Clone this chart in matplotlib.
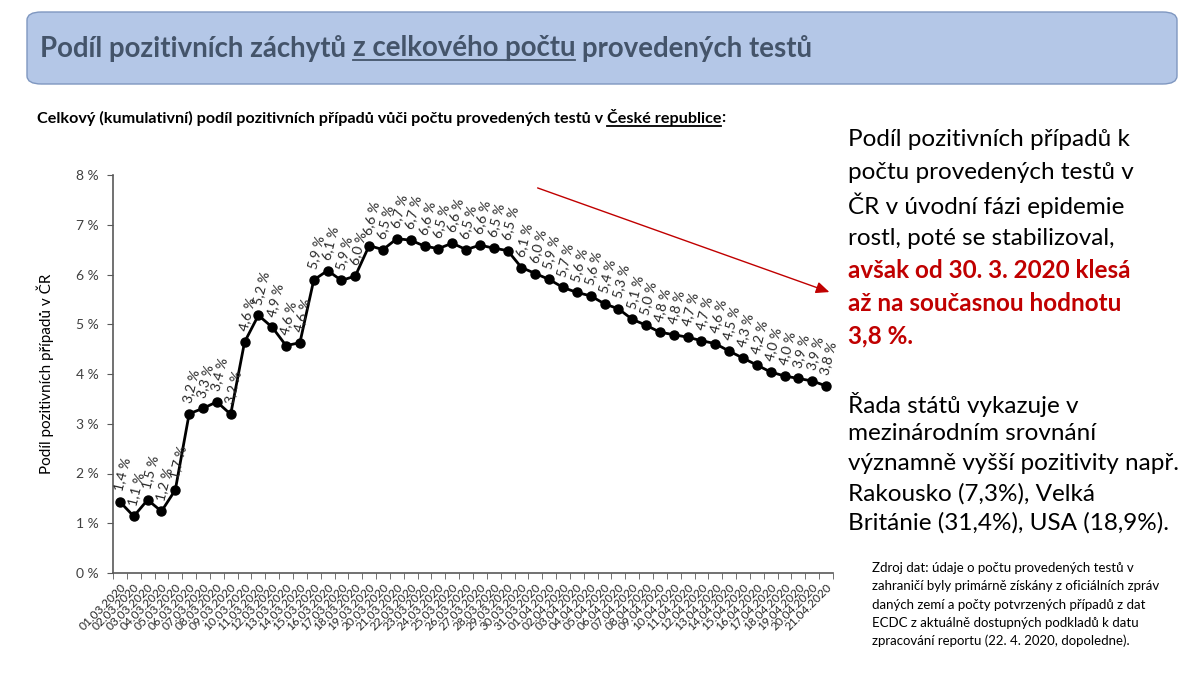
import datetime
import matplotlib
matplotlib.use("Agg")
import matplotlib.pyplot as plt
from matplotlib.patches import FancyBboxPatch

plt.rcParams['font.family'] = ['Lato', 'DejaVu Sans']

# ---------- data ----------
start = datetime.date(2020, 3, 1)
dates = [(start + datetime.timedelta(days=i)).strftime("%d.%m.%Y") for i in range(52)]

# kumulativni podil pozitivnich (%)
share = [1.43, 1.14, 1.47, 1.24, 1.67, 3.20, 3.31, 3.44, 3.19, 4.64,
         5.18, 4.94, 4.57, 4.63, 5.89, 6.08, 5.88, 5.97, 6.58, 6.50,
         6.72, 6.69, 6.57, 6.52, 6.63, 6.50, 6.59, 6.53, 6.48, 6.14,
         6.02, 5.90, 5.74, 5.64, 5.57, 5.41, 5.31, 5.10, 4.98, 4.84,
         4.79, 4.74, 4.67, 4.61, 4.46, 4.32, 4.18, 4.04, 3.96, 3.91,
         3.86, 3.76]

yticks = [0, 1, 2, 3, 4, 5, 6, 7, 8]

W, H = 1200, 674


def fx(px):
    return px / W


def fy(py):
    return 1 - py / H


fig = plt.figure(figsize=(12, 6.74), dpi=100)
fig.patch.set_facecolor("white")
renderer = fig.canvas.get_renderer()


def text_w(t):
    return t.get_window_extent(renderer=renderer).width


def underlined_line(parts, x0, y0, size, color, weight="bold"):
    # parts: list of (text, underline?)
    probe = fig.text(0, 0, "a a", fontsize=size, fontweight=weight)
    probe2 = fig.text(0, 0, "aa", fontsize=size, fontweight=weight)
    space = text_w(probe) - text_w(probe2)
    probe.remove()
    probe2.remove()
    x = x0
    for i, (s, ul) in enumerate(parts):
        t = fig.text(fx(x), fy(y0), s, fontsize=size, fontweight=weight,
                     color=color, va="center", ha="left")
        w = text_w(t)
        if ul:
            ext = t.get_window_extent(renderer=renderer)
            yl = ext.y0 + 1
            fig.add_artist(plt.Line2D([x / W, (x + w) / W], [yl / H, yl / H],
                                      color=color, lw=1.3, transform=fig.transFigure))
        x += w
        if i + 1 < len(parts) and not parts[i + 1][0].startswith(":"):
            x += space


# ---------- title box ----------
box = FancyBboxPatch((fx(27), fy(84)), fx(1177) - fx(27), fy(12) - fy(84),
                     boxstyle="round,pad=0,rounding_size=0.012",
                     transform=fig.transFigure, facecolor="#b4c7e7",
                     edgecolor="#7f97c0", lw=1.0)
fig.patches.append(box)

underlined_line([("Podíl pozitivních záchytů", False), ("z celkového počtu", True),
                 ("provedených testů", False)], 40, 48, 19.9, "#44546a")

underlined_line([("Celkový (kumulativní) podíl pozitivních případů vůči počtu provedených testů v", False),
                 ("České republice", True), (":", False)], 37, 118, 11.6, "black")

# ---------- chart ----------
ax = fig.add_axes([fx(113), fy(573), fx(833) - fx(113), fy(175) - fy(573)])
x = list(range(len(share)))
ax.plot(x, share, color="black", lw=2, marker="o", markersize=6.5, zorder=3)

for xi, v in zip(x, share):
    lab = f"{v:.1f} %".replace(".", ",")
    ax.annotate(lab, (xi, v), xytext=(-1, 8), textcoords="offset points",
                rotation=76, rotation_mode="anchor", ha="left", va="center",
                fontsize=10, color="#262626")

ax.set_xlim(-0.5, len(share) - 0.5)
ax.set_ylim(0, 8)
ax.set_yticks(yticks)
ax.set_yticklabels([f"{t} %" for t in yticks], fontsize=10, color="#404040")
ax.set_xticks(x)
ax.set_xticklabels(dates, rotation=45, ha="right", rotation_mode="anchor",
                   fontsize=8.6, color="#262626")
ax.set_xticks([i - 0.5 for i in range(len(share) + 1)], minor=True)
ax.tick_params(axis="x", which="major", length=0, pad=6)
ax.tick_params(axis="x", which="minor", length=4, direction="out", color="#595959")
ax.tick_params(axis="y", length=4, direction="out", color="#595959", pad=6)
for s in ["top", "right"]:
    ax.spines[s].set_visible(False)
for s in ["left", "bottom"]:
    ax.spines[s].set_color("#595959")
    ax.spines[s].set_linewidth(1.2)
ax.set_ylabel("Podíl pozitivních případů v ČR", fontsize=11, color="black", labelpad=16)

# red trend arrow
fig.add_artist(matplotlib.patches.FancyArrowPatch(
    (fx(535), fy(187)), (fx(832), fy(293)), transform=fig.transFigure,
    arrowstyle="-|>,head_length=8,head_width=3.5", color="#c00000", lw=1.0))

# ---------- right-hand text ----------
para1 = ["Podíl pozitivních případů k", "počtu provedených testů v",
         "ČR v úvodní fázi epidemie", "rostl, poté se stabilizoval,"]
para1_red = ["avšak od 30. 3. 2020 klesá", "až na současnou hodnotu", "3,8 %."]
para2 = ["Řada států vykazuje v", "mezinárodním srovnání",
         "významně vyšší pozitivity např.", "Rakousko (7,3%), Velká",
         "Británie (31,4%), USA (18,9%)."]
source = ["Zdroj dat: údaje o počtu provedených testů v",
          "zahraničí byly primárně získány z oficiálních zpráv",
          "daných zemí a počty potvrzených případů z dat",
          "ECDC z aktuálně dostupných podkladů k datu",
          "zpracování reportu (22. 4. 2020, dopoledne)."]

y = 140
for line in para1:
    fig.text(fx(848), fy(y), line, fontsize=17.5, va="center", color="black")
    y += 32.7
for line in para1_red:
    fig.text(fx(848), fy(y), line, fontsize=17.5, va="center", color="#c00000",
             fontweight="bold")
    y += 32.7

y = 404
for line in para2:
    fig.text(fx(848), fy(y), line, fontsize=17.5, va="center", color="black")
    y += 29.8

y = 568
for line in source:
    fig.text(fx(872), fy(y), line, fontsize=9.5, va="center", color="black")
    y += 18.3

fig.savefig("out.png", dpi=100, facecolor="white")
